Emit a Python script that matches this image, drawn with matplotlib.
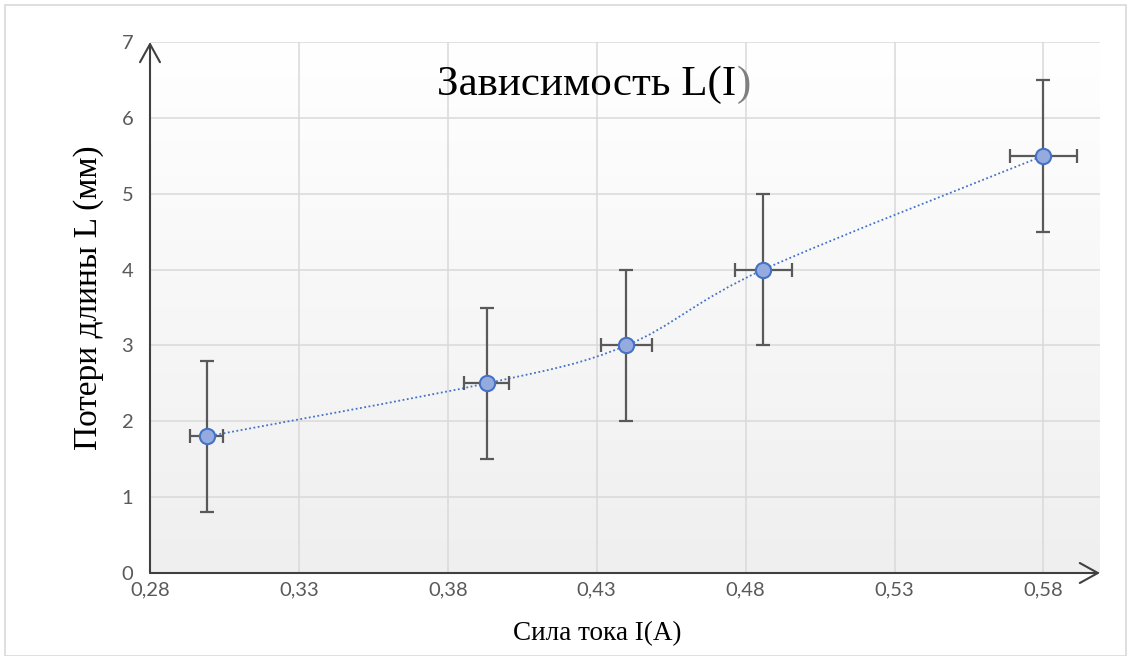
import numpy as np
import matplotlib
matplotlib.use("Agg")
import matplotlib.pyplot as plt
from matplotlib.path import Path
from matplotlib.patches import PathPatch, Rectangle

# data
current = [0.299, 0.393, 0.440, 0.486, 0.580]      # I, A
loss = [1.8, 2.5, 3.0, 4.0, 5.5]                    # L, mm
current_err = [0.0056, 0.0077, 0.0085, 0.0095, 0.0112]
loss_err = [1.0, 1.0, 1.0, 1.0, 1.0]

x_ticks = [0.28, 0.33, 0.38, 0.43, 0.48, 0.53, 0.58]
x_tick_labels = ["0,28", "0,33", "0,38", "0,43", "0,48", "0,53", "0,58"]
y_ticks = [0, 1, 2, 3, 4, 5, 6, 7]

title_main = "Зависимость L(I"
title_tail = ")"
x_label = "Сила тока I(A)"
y_label = "Потери длины L (мм)"

serif = ["Liberation Serif", "DejaVu Serif"]
sans = ["Lato", "DejaVu Sans"]

fig = plt.figure(figsize=(11.32, 6.56), dpi=100)
ax = fig.add_axes([150 / 1132, 83 / 656, 950 / 1132, 531 / 656])
xmin, xmax = 0.28, 0.599
ymin, ymax = 0, 7
ax.set_xlim(xmin, xmax)
ax.set_ylim(ymin, ymax)

# chart border
fig.patches.append(Rectangle((5 / 1132, 0.0), 1121 / 1132, 651 / 656,
                             transform=fig.transFigure, fill=False,
                             edgecolor="#d9d9d9", lw=1.2))

# plot area gradient
grad = np.linspace(1, 0, 256).reshape(-1, 1)
ax.imshow(grad, extent=[0, 1, 0, 1], transform=ax.transAxes, aspect="auto",
          cmap=matplotlib.colors.LinearSegmentedColormap.from_list(
              "bg", ["#efefef", "#ffffff"]), zorder=0)

ax.set_xticks(x_ticks)
ax.set_xticklabels(x_tick_labels)
ax.set_yticks(y_ticks)
ax.grid(True, color="#d9d9d9", lw=1.1, zorder=1)
ax.tick_params(length=0, colors="#595959", labelsize=14.5)
ax.tick_params(axis="x", pad=6)
ax.tick_params(axis="y", pad=12)
for lab in ax.get_xticklabels() + ax.get_yticklabels():
    lab.set_family(sans)
for s in ax.spines.values():
    s.set_visible(False)

# axes with arrow heads
arrow = dict(arrowstyle="->,head_length=1.3,head_width=0.72", mutation_scale=10,
             lw=1.5, color="#404040", shrinkA=0, shrinkB=0)
ax.annotate("", xy=(xmax, 0), xytext=(xmin, 0), arrowprops=arrow, zorder=3,
            annotation_clip=False)
ax.annotate("", xy=(xmin, ymax), xytext=(xmin, 0), arrowprops=arrow, zorder=3,
            annotation_clip=False)

# smoothed dotted line (Bezier segments through the points)
px = np.array(current)
py = np.array(loss)
n = len(px)
verts = [(px[0], py[0])]
codes = [Path.MOVETO]
for i in range(n - 1):
    p0 = np.array([px[max(i - 1, 0)], py[max(i - 1, 0)]])
    p1 = np.array([px[i], py[i]])
    p2 = np.array([px[i + 1], py[i + 1]])
    p3 = np.array([px[min(i + 2, n - 1)], py[min(i + 2, n - 1)]])
    c1 = p1 + (p2 - p0) / 6
    c2 = p2 - (p3 - p1) / 6
    verts += [tuple(c1), tuple(c2), tuple(p2)]
    codes += [Path.CURVE4] * 3
ax.add_patch(PathPatch(Path(verts, codes), fill=False, edgecolor="#4472c4",
                       lw=1.3, linestyle=(0, (1, 1.4)), zorder=2))

ax.errorbar(current, loss, xerr=current_err, yerr=loss_err, fmt="none",
            ecolor="#595959", elinewidth=1.6, capsize=4.8, capthick=1.6, zorder=4)
ax.plot(current, loss, "o", ms=11, mfc="#95abe0", mec="#4472c4", mew=1.5, zorder=5)

# title, last bracket drawn in grey like the original
t = ax.text((437 - 150) / 950, (573 - 95) / 531, title_main, transform=ax.transAxes,
            fontsize=31, family=serif, color="#000000", va="baseline", ha="left")
ax.annotate(title_tail, xy=(1, 0), xycoords=t, fontsize=31, family=serif,
            color="#7f7f7f", va="bottom", ha="left")

ax.set_xlabel(x_label, family=serif, fontsize=19.5, color="#000000")
ax.set_ylabel(y_label, family=serif, fontsize=24, color="#000000")
ax.xaxis.set_label_coords((597 - 150) / 950, (573 - 621) / 531)
ax.yaxis.set_label_coords((104 - 150) / 950, (573 - 298) / 531)

fig.savefig("out.png", dpi=100)
